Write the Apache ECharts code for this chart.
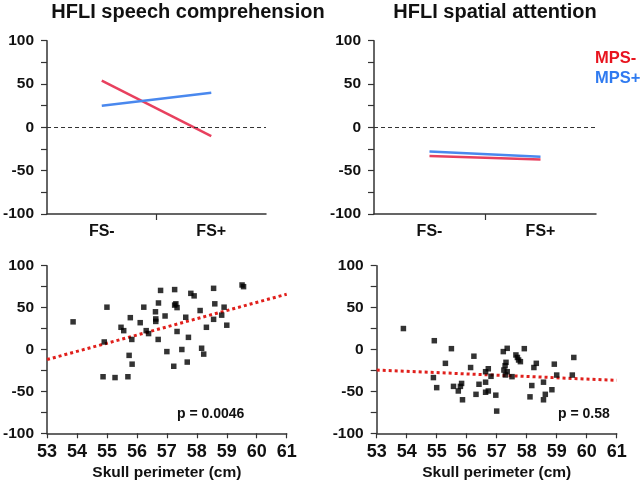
<!DOCTYPE html>
<html><head><meta charset="utf-8">
<script src="https://cdn.jsdelivr.net/npm/echarts@6/dist/echarts.min.js"></script>
<style>html,body{margin:0;padding:0;background:#fff}#c{width:640px;height:483px}</style>
</head><body><div id="c"></div>
<script>
// ---- data ----
const groups = ['FS-', 'FS+'];
const speechMPSminus = [54, -10];
const speechMPSplus = [25, 40];
const spatialMPSminus = [-33, -37];
const spatialMPSplus = [-28, -34];

const skullSpeech = [53.87,54.91,55.0,54.87,55.27,55.47,55.56,55.7,55.74,55.78,55.83,55.84,56.11,56.23,56.31,56.39,56.62,56.63,56.63,56.72,56.71,56.79,56.94,57.0,57.23,57.26,57.26,57.3,57.34,57.34,57.5,57.63,57.68,57.72,57.8,57.91,58.11,58.16,58.23,58.32,58.56,58.56,58.6,58.83,58.91,59.0,59.51,59.56];
const hfliSpeech = [33,9,50.5,-32.5,-33.5,26.5,22.5,-32.5,-7,38,12,-17.5,32,50.5,22.5,19,45,36.5,33.5,55.5,12,70.5,40,-2.5,-20,71.5,53,54.5,50,21.5,0,38.5,-15,14.5,67,64,46.5,1.5,-5.5,26.5,73,36,54.5,41,50.5,29,77,75];

const skullSpatial = [53.89,54.92,54.89,55.0,55.29,55.49,55.56,55.72,55.79,55.83,55.86,56.13,56.24,56.31,56.41,56.63,56.63,56.63,56.72,56.72,56.81,56.97,57.0,57.22,57.28,57.31,57.35,57.24,57.35,57.29,57.51,57.64,57.69,57.73,57.79,57.92,58.11,58.17,58.24,58.32,58.56,58.56,58.62,58.84,58.92,59.0,59.52,59.57];
const hfliSpatial = [25,10.5,-33.5,-45.5,-16.5,1,-44,-49.5,-44,-40.5,-60,-21.5,-8,-53.5,-41.5,-26.5,-39,-51,-23,-49.5,-32,-54.5,-73.5,-2.5,-19.3,-15.3,1.4,-24.5,-26.5,-30.4,-32.4,-6.5,-9.5,-12.5,-14.5,1,-56.5,-43,-21.5,-16.5,-39,-60,-53.5,-48,-17.5,-30.5,-30.5,-9.5];

const fitX = [53, 61];
const fitSpeech = [-12, 66];
const fitSpatial = [-24.5, -36.8];

const pSpeech = 'p = 0.0046';
const pSpatial = 'p = 0.58';
const yTicks = { min: -100, max: 100, interval: 25 };
const xTicks = { min: 53, max: 61, interval: 1 };

// ---- styles ----
const FONT = '"Liberation Sans", Arial, sans-serif';
const AX = '#333';
const RED_LINE = '#e8405e';
const BLUE_LINE = '#4a88ee';

function yAxisCfg(gi) {
  return {
    type: 'value', gridIndex: gi, min: yTicks.min, max: yTicks.max, interval: yTicks.interval,
    axisLine: { show: true, lineStyle: { color: AX, width: 1.5 } },
    axisTick: { show: true, length: 6, lineStyle: { color: AX, width: 1.2 } },
    splitLine: { show: false },
    axisLabel: { margin: 13, color: '#111', fontFamily: FONT, fontWeight: 'bold', fontSize: 15.5,
      formatter: v => (v % 50 === 0 ? String(v) : '') }
  };
}
function catAxisCfg(gi) {
  return {
    type: 'value', gridIndex: gi, min: 0, max: groups.length,
    axisLine: { show: true, onZero: false, lineStyle: { color: AX, width: 1.5 } },
    axisTick: { show: true, length: 6, customValues: [1], lineStyle: { color: AX, width: 1.2 } },
    splitLine: { show: false },
    axisLabel: { margin: 10, color: '#111', fontFamily: FONT, fontWeight: 'bold', fontSize: 16,
      customValues: groups.map((g, i) => i + 0.5),
      formatter: v => groups[Math.floor(v)] }
  };
}
function scatXAxisCfg(gi) {
  return {
    type: 'value', gridIndex: gi, min: xTicks.min, max: xTicks.max, interval: xTicks.interval,
    axisLine: { show: true, onZero: false, lineStyle: { color: AX, width: 1.5 } },
    axisTick: { show: true, length: 5, lineStyle: { color: AX, width: 1.2 } },
    splitLine: { show: false },
    axisLabel: { margin: 10, color: '#111', fontFamily: FONT, fontWeight: 'bold', fontSize: 18 },
    name: 'Skull perimeter (cm)', nameLocation: 'middle', nameGap: 31,
    nameTextStyle: { color: '#111', fontFamily: FONT, fontWeight: 'bold', fontSize: 15.5 }
  };
}
const zeroLine = {
  silent: true, symbol: 'none', label: { show: false },
  lineStyle: { color: '#333', type: [4, 3], width: 1.2 },
  data: [{ yAxis: 0 }]
};
function groupLine(gi, name, vals, color, withZero) {
  const s = {
    type: 'line', name: name, xAxisIndex: gi, yAxisIndex: gi,
    data: vals.map((v, i) => [i + 0.5, v]),
    symbol: 'none', lineStyle: { color: color, width: 2.5 }, itemStyle: { color: color }, z: 3
  };
  if (withZero) s.markLine = zeroLine;
  return s;
}
function scatter(gi, xs, ys) {
  return {
    type: 'scatter', xAxisIndex: gi, yAxisIndex: gi,
    data: xs.map((x, i) => [x, ys[i]]),
    symbol: 'rect', symbolSize: 5.5, itemStyle: { color: '#000' }, z: 3
  };
}
function fitLine(gi, ys) {
  return {
    type: 'line', xAxisIndex: gi, yAxisIndex: gi,
    data: fitX.map((x, i) => [x, ys[i]]),
    symbol: 'none', lineStyle: { color: '#e0201c', width: 3, type: [3, 3] }, z: 2
  };
}
const titleStyle = (size, color) => ({ fontFamily: FONT, fontWeight: 'bold', fontSize: size, color: color });

const chart = echarts.init(document.getElementById('c'), null, { renderer: 'canvas' });
chart.setOption({
  backgroundColor: '#fff',
  animation: false,
  title: [
    { text: 'HFLI speech comprehension', left: 188, top: 2, padding: 0, textAlign: 'center', textStyle: titleStyle(20, '#111') },
    { text: 'HFLI spatial attention', left: 495, top: 2, padding: 0, textAlign: 'center', textStyle: titleStyle(20, '#111') },
    { text: pSpeech, left: 177, top: 407, padding: 0, textStyle: titleStyle(14, '#111') },
    { text: pSpatial, left: 558, top: 407, padding: 0, textStyle: titleStyle(14, '#111') },
    { text: 'MPS-', left: 595, top: 50, padding: 0, textStyle: titleStyle(16.5, '#e8141e') },
    { text: 'MPS+', left: 595, top: 70, padding: 0, textStyle: titleStyle(16.5, '#2f7bf0') }
  ],
  grid: [
    { left: 46, top: 40.7, width: 220, height: 173.3 },
    { left: 374, top: 40.7, width: 222, height: 173.3 },
    { left: 46.7, top: 265.7, width: 240, height: 167.6 },
    { left: 376.7, top: 265.7, width: 240, height: 167.6 }
  ],
  xAxis: [catAxisCfg(0), catAxisCfg(1), scatXAxisCfg(2), scatXAxisCfg(3)],
  yAxis: [yAxisCfg(0), yAxisCfg(1), yAxisCfg(2), yAxisCfg(3)],
  series: [
    groupLine(0, 'MPS-', speechMPSminus, RED_LINE, true),
    groupLine(0, 'MPS+', speechMPSplus, BLUE_LINE, false),
    groupLine(1, 'MPS-', spatialMPSminus, RED_LINE, true),
    groupLine(1, 'MPS+', spatialMPSplus, BLUE_LINE, false),
    fitLine(2, fitSpeech),
    scatter(2, skullSpeech, hfliSpeech),
    fitLine(3, fitSpatial),
    scatter(3, skullSpatial, hfliSpatial)
  ]
});
</script></body></html>
